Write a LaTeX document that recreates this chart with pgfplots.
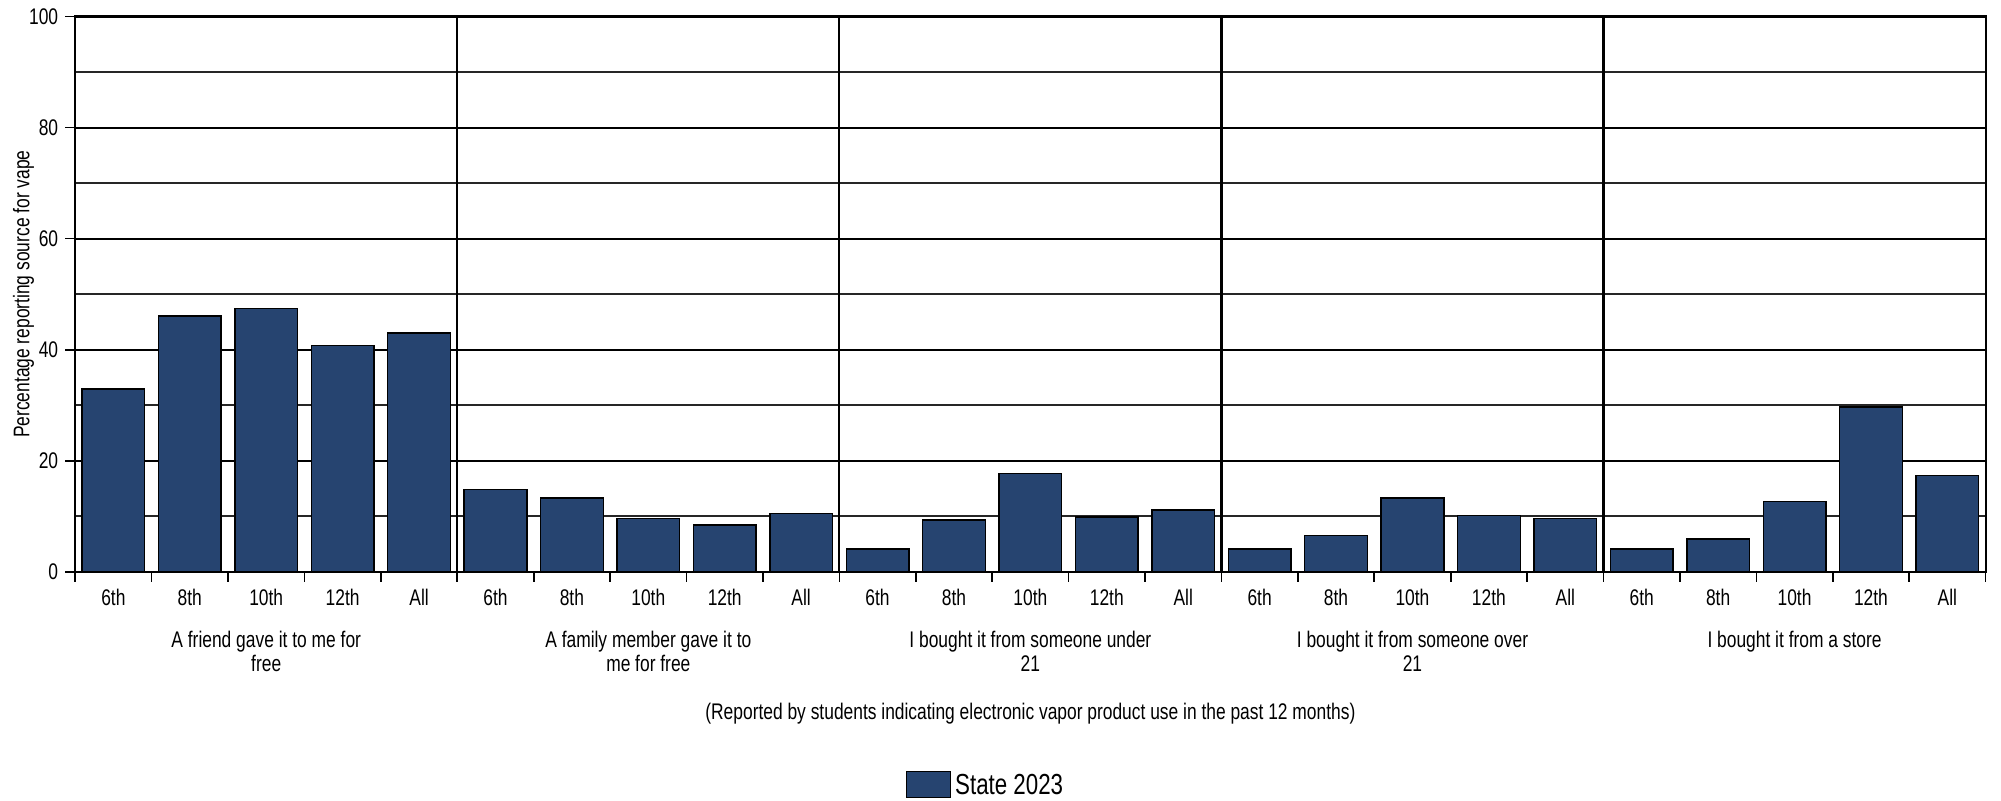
\documentclass[border=0pt]{standalone}
\usepackage{fontspec}
\setmainfont{Liberation Sans}[FakeStretch=0.77]
\usepackage{pgfplots}
\pgfplotsset{compat=1.18}
\definecolor{barblue}{HTML}{264470}
\begin{document}
\begin{tikzpicture}
\path[use as bounding box] (0,0) rectangle (1000.5pt,400.5pt);
\begin{axis}[
  at={(37.6pt,114.6pt)}, anchor=south west,
  scale only axis, width=955.2pt, height=277.6pt,
  clip=false,
  xmin=-0.5, xmax=24.5, ymin=0, ymax=100,
  ybar, bar width=0.82, bar shift=0pt,
  axis line style={black, line width=1.1pt},
  tick align=outside, xtick pos=bottom, ytick pos=left,
  xtick={0,...,24},
  xticklabels={6th,8th,10th,12th,All,6th,8th,10th,12th,All,6th,8th,10th,12th,All,6th,8th,10th,12th,All,6th,8th,10th,12th,All},
  major x tick style={draw=none},
  minor xtick={-0.5,0.5,...,24.5},
  minor x tick style={black, line width=0.8pt},
  minor tick length=5pt, major tick length=5pt,
  ytick={0,20,...,100}, minor ytick={10,30,...,90},
  minor y tick style={draw=none},
  major y tick style={black, line width=0.8pt},
  ymajorgrids, yminorgrids,
  major grid style={black, line width=1.1pt},
  minor grid style={black!85, line width=0.9pt},
  extra x ticks={4.5,9.5,14.5,19.5}, extra x tick labels={},
  extra x tick style={grid=major, major x tick style={black,line width=0.8pt}},
  /pgf/number format/assume math mode=true,
  ticklabel style={font=\fontsize{11.3}{12}\selectfont},
  ylabel={Percentage reporting source for vape},
  ylabel style={at={(axis description cs:-0.027,0.5)}, anchor=center, font=\fontsize{11.3}{12}\selectfont},
  legend style={draw=none, at={(0.477,-0.386)}, anchor=center, font=\fontsize{14.5}{17}\selectfont},
  legend image code/.code={\draw[#1] (0pt,-5.7pt) rectangle (22pt,7.3pt);},
]
\addplot[fill=barblue, draw=black, line width=0.7pt] coordinates {
(0,32.9) (1,46.1) (2,47.4) (3,40.8) (4,43.0)
(5,14.8) (6,13.3) (7,9.6) (8,8.4) (9,10.5)
(10,4.1) (11,9.3) (12,17.7) (13,9.9) (14,11.1)
(15,4.1) (16,6.5) (17,13.3) (18,10.1) (19,9.6)
(20,4.1) (21,5.9) (22,12.7) (23,29.7) (24,17.3)
};
\addlegendentry{State 2023}
\node[align=center, anchor=north, font=\fontsize{11.3}{12}\selectfont] at (axis cs:2,0) [yshift=-26pt] {A friend gave it to me for\\free};
\node[align=center, anchor=north, font=\fontsize{11.3}{12}\selectfont] at (axis cs:7,0) [yshift=-26pt] {A family member gave it to\\me for free};
\node[align=center, anchor=north, font=\fontsize{11.3}{12}\selectfont] at (axis cs:12,0) [yshift=-26pt] {I bought it from someone under\\21};
\node[align=center, anchor=north, font=\fontsize{11.3}{12}\selectfont] at (axis cs:17,0) [yshift=-26pt] {I bought it from someone over\\21};
\node[align=center, anchor=north, font=\fontsize{11.3}{12}\selectfont] at (axis cs:22,0) [yshift=-26pt] {I bought it from a store};
\node[anchor=center, font=\fontsize{11.3}{12}\selectfont] at (rel axis cs:0.5,0) [yshift=-70.8pt] {(Reported by students indicating electronic vapor product use in the past 12 months)};
\end{axis}
\end{tikzpicture}
\end{document}
